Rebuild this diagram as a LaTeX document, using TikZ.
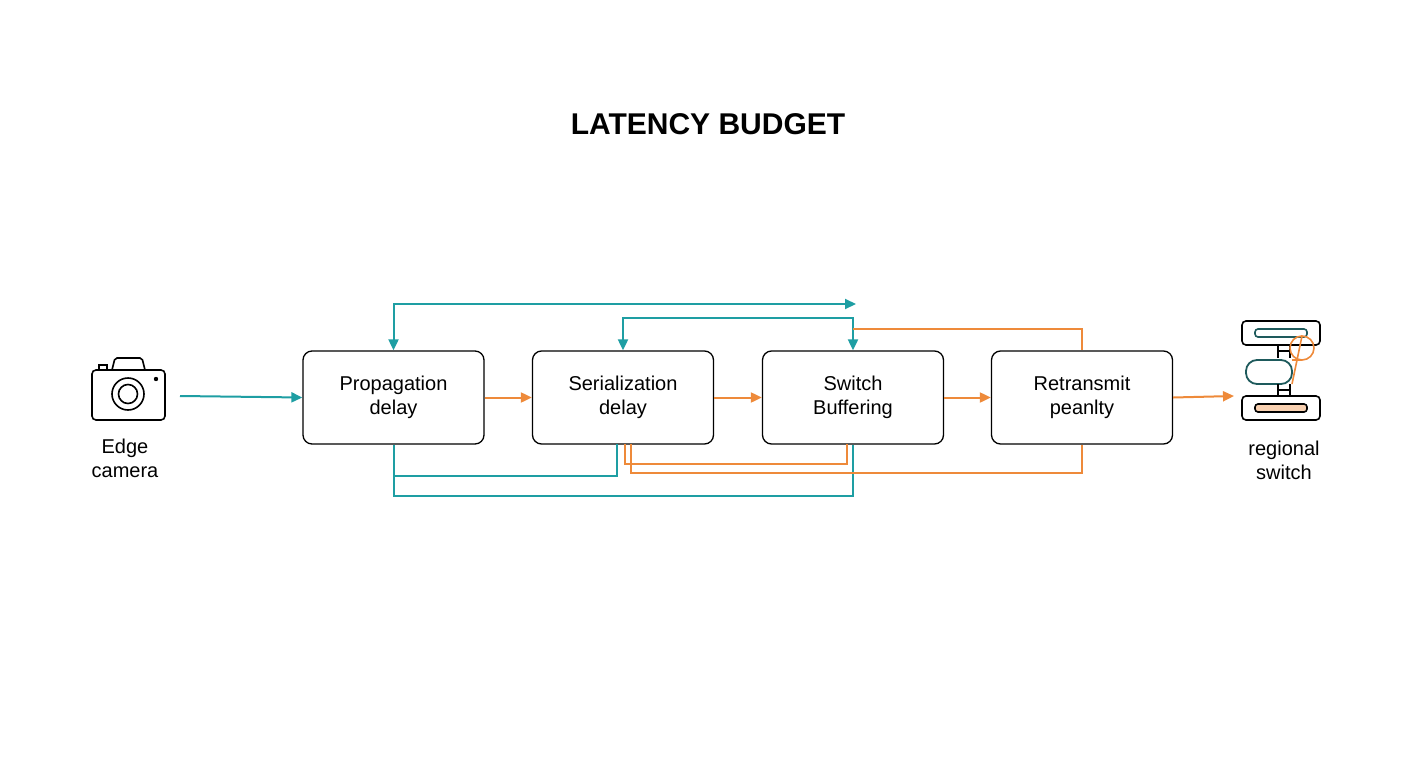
\documentclass[tikz,border=0pt]{standalone}
\usepackage{fontspec}
\setmainfont{Liberation Sans}
\usetikzlibrary{arrows.meta}
\definecolor{teal1}{HTML}{1E9EA3}
\definecolor{org}{HTML}{EE8A3A}
\definecolor{dteal}{HTML}{1E5A5C}
\begin{document}
\begin{tikzpicture}[x=1pt,y=-1pt,
  box/.style={draw=black,line width=1.3pt,rounded corners=9pt,minimum width=181pt,minimum height=93pt,align=center,font=\fontsize{20}{24}\selectfont},
  lbl/.style={align=center,font=\fontsize{20}{24}\selectfont},
  tl/.style={draw=teal1,line width=2pt},
  ol/.style={draw=org,line width=2pt},
  tip/.style={-{Triangle[length=11pt,width=10pt]}},
  ic/.style={draw=black,line width=1.6pt}]
\useasboundingbox (0,0) rectangle (1408,768);
\node[font=\fontsize{30}{34}\selectfont\bfseries] (title) at (708,124) {LATENCY BUDGET};
\node[box] (p) at (393.5,397.5) {Propagation\\delay};
\node[box] (s) at (623,397.5) {Serialization\\delay};
\node[box] (w) at (853,397.5) {Switch\\Buffering};
\node[box] (r) at (1082,397.5) {Retransmit\\peanlty};
% camera icon
\draw[ic,rounded corners=4pt] (92,370) rectangle (165,420);
\draw[ic,rounded corners=2pt] (112,370) -- (115,358) -- (142,358) -- (145,370);
\draw[ic] (99,370) -- (99,365) -- (107,365) -- (107,370);
\draw[ic] (128,394) circle (16);
\draw[ic] (128,394) circle (9.5);
\fill (156,379) circle (2.2);
\node[lbl] (cam) at (125,458) {Edge\\camera};
\coordinate (camr) at (180,396);
% switch icon
\draw[ic,rounded corners=4pt] (1242,321) rectangle (1320,345);
\draw[draw=dteal,line width=1.6pt,rounded corners=3pt] (1255,329) rectangle (1307,337);
\draw[ic] (1278,345) -- (1278,358) (1290,345) -- (1290,358) (1278,351) -- (1290,351);
\draw[draw=org,line width=1.6pt] (1292,360) -- (1302,360) arc (-90:90:-12) ;
\draw[draw=org,line width=1.6pt] (1292,360) -- (1302,360) arc (90:-90:12) -- (1292,384);
\draw[draw=dteal,line width=1.8pt,rounded corners=11pt] (1246,360) rectangle (1292,384);
\draw[ic] (1278,384) -- (1278,396) (1290,384) -- (1290,396) (1278,390) -- (1290,390);
\draw[ic,rounded corners=4pt] (1242,396) rectangle (1320,420);
\draw[draw=black,fill=org!40,line width=1.6pt,rounded corners=3pt] (1255,404) rectangle (1307,412);
\node[lbl] (sw) at (1284,460) {regional\\switch};
\coordinate (swl) at (1234,396);
% main flow
\draw[tl,tip] (camr) -- (p.west);
\draw[ol,tip] (p.east) -- (s.west);
\draw[ol,tip] (s.east) -- (w.west);
\draw[ol,tip] (w.east) -- (r.west);
\draw[ol,tip] (r.east) -- (swl);
% top loops
\coordinate (t1) at (856,304);
\draw[tl,{Triangle[length=11pt,width=10pt]}-{Triangle[length=11pt,width=10pt]}] (p.north) -- (393.5,304) -- (t1);
\draw[tl,{Triangle[length=11pt,width=10pt]}-{Triangle[length=11pt,width=10pt]}] (s.north) -- (623,318) -- (853,318) -- (w.north);
\draw[ol] (853,329) -- (1082,329) -- (r.north);
% bottom loops
\draw[tl] (p.south) -- (393.5,476) -- (617,476) -- (617,444);
\draw[tl] (p.south) -- (393.5,496) -- (853,496) -- (w.south);
\draw[ol] (625,444) -- (625,464) -- (847,464) -- (847,444);
\draw[ol] (631,444) -- (631,473) -- (1082,473) -- (r.south);
\end{tikzpicture}
\end{document}
